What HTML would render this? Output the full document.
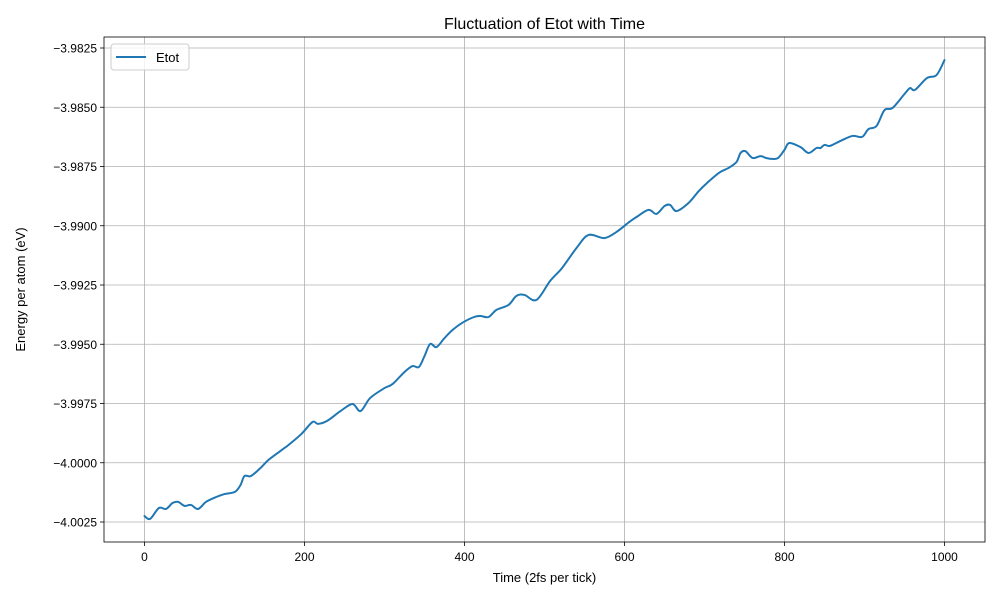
<!DOCTYPE html>
<html><head><meta charset="utf-8"><style>
body{margin:0;background:#fff;}
svg text{font-family:"Liberation Sans","DejaVu Sans",sans-serif;fill:#000;}
</style></head><body>
<svg id="chart" width="1000" height="600" xmlns="http://www.w3.org/2000/svg">
<rect width="1000" height="600" fill="#fff"/>
<g id="grid"></g>
<g id="xticks"></g>
<g id="yticks"></g>
<path id="line" fill="none" stroke="#1f77b4" stroke-width="2" stroke-linejoin="round" stroke-linecap="round"/>
<rect x="104" y="37" width="881" height="505" fill="none" stroke="#000" stroke-width="0.8"/>
<text x="544.5" y="29" font-size="16" text-anchor="middle">Fluctuation of Etot with Time</text>
<text x="544.5" y="582" font-size="13" text-anchor="middle">Time (2fs per tick)</text>
<text transform="translate(25,289.5) rotate(-90)" font-size="13" text-anchor="middle">Energy per atom (eV)</text>
<g>
<rect x="111" y="44" width="78" height="26" rx="3" fill="#fff" fill-opacity="0.8" stroke="#ccc"/>
<line x1="116" y1="57" x2="146" y2="57" stroke="#1f77b4" stroke-width="2"/>
<text x="156" y="62" font-size="13">Etot</text>
</g>
</svg>
<script>
const times=[0,7,18,27,35,42,50,58,67,77,90,100,113,120,125,133,145,155,170,180,196,210,217,228,245,260,270,282,300,310,325,335,343,350,357,365,375,385,397,412,420,430,440,455,465,475,490,507,522,540,555,575,590,606,615,630,640,650,657,665,680,693,703,718,730,740,745,751,760,770,777,785,792,800,806,820,830,840,845,850,857,870,885,897,905,915,925,935,950,957,963,978,990,1000];
const etot=[-4.00225,-4.00237,-4.00191,-4.00195,-4.00170,-4.00165,-4.00182,-4.00178,-4.00195,-4.00165,-4.00144,-4.00132,-4.00123,-4.00094,-4.00056,-4.00056,-4.00022,-3.99988,-3.99950,-3.99925,-3.99879,-3.99828,-3.99836,-3.99824,-3.99782,-3.99752,-3.99782,-3.99727,-3.99685,-3.99668,-3.99617,-3.99592,-3.99596,-3.99550,-3.99499,-3.99512,-3.99474,-3.99440,-3.99410,-3.99385,-3.99381,-3.99385,-3.99355,-3.99334,-3.99296,-3.99292,-3.99313,-3.99233,-3.99178,-3.99094,-3.99039,-3.99052,-3.99026,-3.98984,-3.98963,-3.98933,-3.98950,-3.98917,-3.98912,-3.98938,-3.98904,-3.98853,-3.98820,-3.98777,-3.98756,-3.98731,-3.98693,-3.98685,-3.98714,-3.98706,-3.98714,-3.98718,-3.98714,-3.98680,-3.98651,-3.98668,-3.98693,-3.98672,-3.98672,-3.98659,-3.98663,-3.98642,-3.98621,-3.98625,-3.98592,-3.98579,-3.98512,-3.98503,-3.98444,-3.98419,-3.98427,-3.98377,-3.98364,-3.98301];
const xTicks=[0,200,400,600,800,1000];
const yTicks=[-3.9825,-3.985,-3.9875,-3.99,-3.9925,-3.995,-3.9975,-4.0,-4.0025];
const yTickLabels=["\u22123.9825","\u22123.9850","\u22123.9875","\u22123.9900","\u22123.9925","\u22123.9950","\u22123.9975","\u22124.0000","\u22124.0025"];
const X=v=>144.5+v*0.8;
const Y=v=>48+(-3.9825-v)/0.0025*59.25;
const ns="http://www.w3.org/2000/svg";
const grid=document.getElementById('grid'),xg=document.getElementById('xticks'),yg=document.getElementById('yticks');
function mk(tag,attrs,parent){const e=document.createElementNS(ns,tag);for(const k in attrs)e.setAttribute(k,attrs[k]);parent.appendChild(e);return e;}
xTicks.forEach(t=>{
 const x=X(t);
 const g=mk('line',{x1:x,x2:x,y1:37,y2:542,stroke:'#b0b0b0','stroke-width':0.8},grid);
 
 
 mk('line',{x1:x,x2:x,y1:542,y2:546,stroke:'#000','stroke-width':0.8},xg);
 const tx=mk('text',{x:x,y:561,'font-size':12,'text-anchor':'middle'},xg);
 tx.textContent=t;
 
 
});
yTicks.forEach((t,i)=>{
 const y=Y(t);
 const g=mk('line',{x1:104,x2:985,y1:y,y2:y,stroke:'#b0b0b0','stroke-width':0.8},grid);
 
 
 mk('line',{x1:100,x2:104,y1:y,y2:y,stroke:'#000','stroke-width':0.8},yg);
 const tx=mk('text',{x:97,y:y+4.5,'font-size':12,'text-anchor':'end'},yg);
 tx.textContent=yTickLabels[i];
 
 
});
const pts=times.map((t,i)=>[X(t),Y(etot[i])]);
let d='M'+pts[0][0]+','+pts[0][1];
for(let i=0;i<pts.length-1;i++){
 const p0=pts[Math.max(0,i-1)],p1=pts[i],p2=pts[i+1],p3=pts[Math.min(pts.length-1,i+2)];
 const c1=[p1[0]+(p2[0]-p0[0])/6,p1[1]+(p2[1]-p0[1])/6];
 const c2=[p2[0]-(p3[0]-p1[0])/6,p2[1]-(p3[1]-p1[1])/6];
 d+=' C'+c1[0].toFixed(2)+','+c1[1].toFixed(2)+' '+c2[0].toFixed(2)+','+c2[1].toFixed(2)+' '+p2[0].toFixed(2)+','+p2[1].toFixed(2);
}
document.getElementById('line').setAttribute('d',d);
</script>
</body></html>
